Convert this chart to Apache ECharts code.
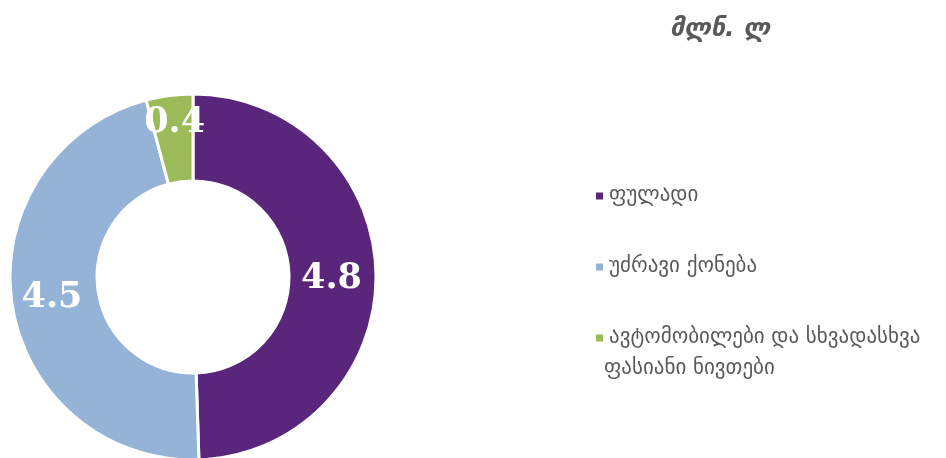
<!DOCTYPE html>
<html><head><meta charset="utf-8">
<script src="https://cdn.jsdelivr.net/npm/echarts@6/dist/echarts.min.js"></script>
<style>html,body{margin:0;padding:0;background:#fff}#c{width:946px;height:458px}</style>
</head><body><div id="c"></div>
<script>
const categories = ['ფულადი', 'უძრავი ქონება', 'ავტომობილები და სხვადასხვა ფასიანი ნივთები'];
const legendFirstLine = 'ავტომობილები და სხვადასხვა';
const legendSecondLine = 'ფასიანი ნივთები';
const values = [4.8, 4.5, 0.4];
const colors = ['#59267C', '#95B3D7', '#9BBB59'];
const unitTitle = 'მლნ. ლ';

const legendFont = {fontFamily: 'DejaVu Sans', fontSize: 21, color: '#595959'};
const chart = echarts.init(document.getElementById('c'));
chart.setOption({
  animation: false,
  title: {
    text: unitTitle, left: 715, top: 12, textAlign: 'center',
    textStyle: {fontFamily: 'DejaVu Sans', fontSize: 25, fontWeight: 'bold', fontStyle: 'italic', color: '#595959'}
  },
  legend: {
    orient: 'vertical', left: 589, top: 178, itemGap: 45,
    icon: 'rect', itemWidth: 9, itemHeight: 9,
    textStyle: Object.assign({lineHeight: 26}, legendFont),
    formatter: function (n) { return n === categories[2] ? legendFirstLine : n; },
    data: categories
  },
  graphic: [{
    type: 'text', left: 604, top: 358,
    style: Object.assign({text: legendSecondLine, fill: legendFont.color, font: '21px "DejaVu Sans"'})
  }],
  series: [{
    type: 'pie', center: [193, 277], radius: [96, 183], startAngle: 90, clockwise: true,
    itemStyle: {borderColor: '#fff', borderWidth: 3},
    label: {show: true, position: 'inside', formatter: '{c}', color: '#fff',
      fontFamily: 'DejaVu Serif', fontWeight: 'bold', fontSize: 35},
    labelLayout: function (p) { return p.dataIndex === 2 ? {dy: -13} : (p.dataIndex === 0 ? {dx: -4, dy: 4} : {}); },
    labelLine: {show: false},
    data: categories.map((n, i) => ({name: n, value: values[i], itemStyle: {color: colors[i]}}))
  }]
});
</script></body></html>
